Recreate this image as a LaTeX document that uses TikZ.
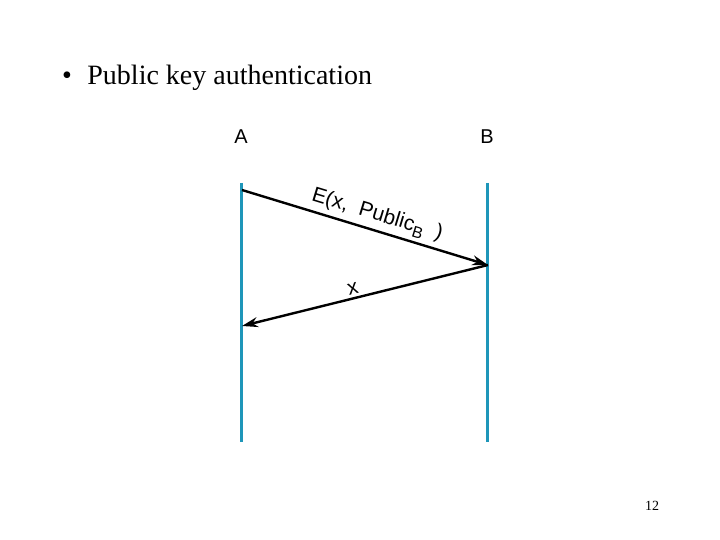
\documentclass[tikz,border=0pt]{standalone}
\usepackage{fontspec}
\setmainfont{Liberation Serif}
\newfontfamily\lsans{Liberation Sans}
\usetikzlibrary{arrows.meta}
\definecolor{life}{RGB}{30,150,185}
\begin{document}
\begin{tikzpicture}[x=1pt,y=-1pt,
  lifeline/.style={draw=life,line width=3pt},
  msg/.style={draw=black,line width=2.4pt,-{Stealth[length=16pt,width=10pt]}},
  actor/.style={font=\lsans\fontsize{20}{24}\selectfont,inner sep=0pt},
  lbl/.style={font=\lsans\fontsize{21}{24}\selectfont,inner sep=0pt}]
\useasboundingbox (0,0) rectangle (720,540);
\node[anchor=base west,inner sep=0pt,font=\fontsize{28}{32}\selectfont] (title) at (62,85) {\textbullet\hspace{0.55em}Public key authentication};
\node[actor] (A) at (241,137) {A};
\node[actor] (B) at (487,137) {B};
\coordinate (a1) at (241,183);
\coordinate (a2) at (241,442);
\coordinate (b1) at (487,183);
\coordinate (b2) at (487,442);
\draw[lifeline] (a1) -- (a2);
\draw[lifeline] (b1) -- (b2);
\coordinate (m1s) at (242,190);
\coordinate (m1e) at (488,265);
\coordinate (m2e) at (242,326);
\draw[msg] (m1s) -- node[lbl,pos=0.5,above,sloped,xshift=8pt,yshift=4pt] (l1) {E(x,\ \ Public\raisebox{-5pt}{\fontsize{16}{18}\selectfont B}\ \ )} (m1e);
\draw[msg] (m1e) -- node[lbl,pos=0.54,above,sloped,yshift=3pt] (l2) {x} (m2e);
\node[anchor=base,inner sep=0pt,font=\fontsize{14}{16}\selectfont] (pg) at (652,510) {12};
\end{tikzpicture}
\end{document}
